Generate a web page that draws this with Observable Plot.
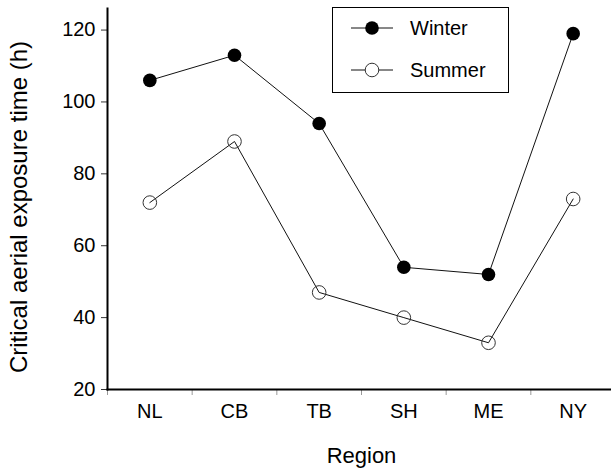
<!DOCTYPE html>
<html>
<head>
<meta charset="utf-8">
<script src="https://cdn.jsdelivr.net/npm/d3@7"></script>
<script src="https://cdn.jsdelivr.net/npm/@observablehq/plot@0.6"></script>
<style>
  html, body { margin: 0; padding: 0; background: #fff; overflow: hidden; }
  #wrap { position: relative; width: 611px; height: 468px; font-family: Arial, "Liberation Sans", sans-serif; }
  #legend { position: absolute; left: 332px; top: 7px; }
  #wrap svg g[aria-label="y-axis tick label"],
  #wrap svg g[aria-label="x-axis tick label"] { font-size: 20px; }
</style>
</head>
<body>
<div id="wrap"></div>
<script>
const regions = ["NL", "CB", "TB", "SH", "ME", "NY"];
const winter = [106, 113, 94, 54, 52, 119];
const summer = [72, 89, 47, 40, 33, 73];
const yTicks = [20, 40, 60, 80, 100, 120];
const seriesNames = ["Winter", "Summer"];
const xTitle = "Region";
const yTitle = "Critical aerial exposure time (h)";

const rows = regions.map((r, i) => ({region: r, i, winter: winter[i], summer: summer[i]}));
const boundaries = regions.map((_, i) => i - 0.5);
const centers = regions.map((_, i) => i);
const font = 'Arial, "Liberation Sans", sans-serif';

const chart = Plot.plot({
  width: 611,
  height: 468,
  marginLeft: 107,
  marginRight: 0,
  marginTop: 8,
  marginBottom: 79,
  style: {fontFamily: font, fontSize: "20px", color: "#000", background: "#fff"},
  x: {domain: [-0.5, 5.5], range: [107, 615]},
  y: {domain: [20, 126]},
  marks: [
    Plot.axisY({ticks: yTicks, tickSize: 6, tickPadding: 6, stroke: "#333", fontSize: 20, label: null}),
    Plot.axisX({ticks: boundaries, tickSize: 6, tickFormat: () => "", stroke: "#999", label: null}),
    Plot.axisX({ticks: centers, tickSize: 0, tickPadding: 14, tickFormat: i => regions[i], fontSize: 20, label: null}),
    Plot.text([yTitle], {frameAnchor: "left", textAnchor: "middle", lineAnchor: "middle", dx: -88, dy: 8, rotate: -90, fontSize: 24, fill: "#000"}),
    Plot.text([xTitle], {frameAnchor: "bottom", textAnchor: "middle", lineAnchor: "middle", dx: 2, dy: 66, fontSize: 22, fill: "#000"}),
    Plot.frame({anchor: "left", stroke: "#000", strokeWidth: 2}),
    Plot.frame({anchor: "bottom", stroke: "#000", strokeWidth: 2}),
    Plot.line(rows, {x: "i", y: "winter", stroke: "#111", strokeWidth: 1}),
    Plot.line(rows, {x: "i", y: "summer", stroke: "#111", strokeWidth: 1}),
    Plot.dot(rows, {x: "i", y: "winter", r: 6.8, fill: "#000", stroke: "none"}),
    Plot.dot(rows, {x: "i", y: "summer", r: 6.8, fill: "none", stroke: "#333", strokeWidth: 1})
  ]
});
chart.style.overflow = "hidden";
document.getElementById("wrap").appendChild(chart);

// legend
const lg = d3.select("#wrap").append("svg").attr("id", "legend")
  .attr("width", 177).attr("height", 86);
lg.append("rect").attr("x", 0.5).attr("y", 0.5).attr("width", 176).attr("height", 85)
  .attr("fill", "#fff").attr("stroke", "#000").attr("stroke-width", 1);
seriesNames.forEach((name, k) => {
  const cy = k === 0 ? 21 : 63;
  lg.append("line").attr("x1", 19).attr("x2", 61).attr("y1", cy).attr("y2", cy)
    .attr("stroke", "#111").attr("stroke-width", 1);
  lg.append("circle").attr("cx", 40).attr("cy", cy).attr("r", 6.8)
    .attr("fill", k === 0 ? "#000" : "#fff").attr("stroke", k === 0 ? "none" : "#333");
  lg.append("text").attr("x", 78).attr("y", cy).attr("dy", "0.35em")
    .attr("font-size", 20).attr("font-family", font)
    .text(name);
});
</script>
</body>
</html>
